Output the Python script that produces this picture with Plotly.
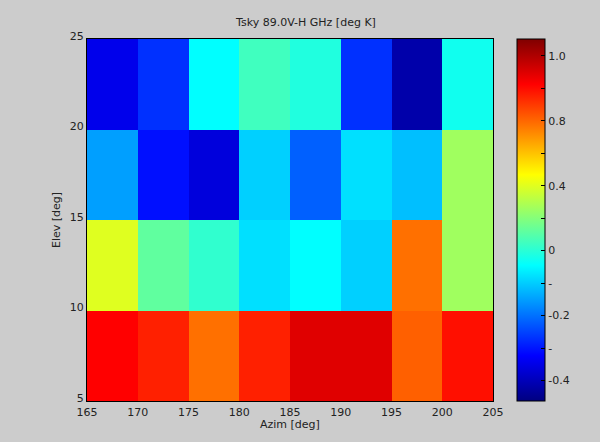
import plotly.graph_objects as go

# Bin edges
azim_edges = [165, 170, 175, 180, 185, 190, 195, 200, 205]
elev_edges = [5, 10, 15, 20, 25]

# Tsky values (rows: elev 5-10, 10-15, 15-20, 20-25)
row_5_10 = [0.877, 0.828, 0.705, 0.828, 0.924, 0.924, 0.730, 0.853]
row_10_15 = [0.437, 0.242, 0.169, 0.047, 0.095, 0.023, 0.705, 0.341]
row_15_20 = [-0.052, -0.272, -0.350, 0.023, -0.149, 0.047, -0.003, 0.341]
row_20_25 = [-0.327, -0.222, 0.095, 0.193, 0.144, -0.222, -0.426, 0.119]
tsky = [row_5_10, row_10_15, row_15_20, row_20_25]

zmin, zmax = -0.491, 1.072

# Colorbar tick labels (as displayed)
cbar_labels = ["1.0", "", "0.8", "", "0.4", "", "0", "-", "-0.2", "-", "-0.4"]
cbar_step = 0.1403
cbar_vals = [1.0 - i * cbar_step for i in range(len(cbar_labels))]

jet = [
    [0.0, "rgb(0,0,128)"],
    [0.125, "rgb(0,0,255)"],
    [0.375, "rgb(0,255,255)"],
    [0.625, "rgb(255,255,0)"],
    [0.875, "rgb(255,0,0)"],
    [1.0, "rgb(128,0,0)"],
]

font = dict(family="DejaVu Sans, Liberation Sans, sans-serif", size=11, color="#222222")

L, R, T, B = 87, 107, 39, 41
PW = 600 - L - R
PH = 442 - T - B

fig = go.Figure(
    go.Heatmap(
        x=azim_edges,
        y=elev_edges,
        z=tsky,
        zmin=zmin,
        zmax=zmax,
        colorscale=jet,
        colorbar=dict(
            x=(517 - L) / PW,
            xanchor="left",
            xref="paper",
            y=0.5,
            yanchor="middle",
            len=1.0,
            lenmode="fraction",
            thickness=28,
            thicknessmode="pixels",
            outlinecolor="black",
            outlinewidth=1,
            tickmode="array",
            tickvals=cbar_vals,
            ticktext=cbar_labels,
            ticks="inside",
            ticklen=4,
            tickcolor="black",
            tickfont=font,
            ypad=0,
            xpad=0,
        ),
    )
)

fig.update_layout(
    width=600,
    height=442,
    paper_bgcolor="#cccccc",
    plot_bgcolor="#cccccc",
    margin=dict(l=L, r=R, t=T, b=B, autoexpand=False),
    font=font,
    title=dict(
        text="Tsky 89.0V-H GHz [deg K]",
        x=306 / 600,
        xanchor="center",
        y=1 - 22 / 442,
        yanchor="middle",
        font=font,
    ),
    xaxis=dict(
        range=[165, 205],
        tickvals=azim_edges,
        ticks="",
        showgrid=False,
        zeroline=False,
        showline=True,
        linecolor="black",
        linewidth=1,
        mirror=True,
        automargin=False,
        tickfont=font,
        ticklabelstandoff=1,
    ),
    yaxis=dict(
        range=[5, 25],
        tickvals=elev_edges,
        ticks="",
        showgrid=False,
        zeroline=False,
        showline=True,
        linecolor="black",
        linewidth=1,
        mirror=True,
        automargin=False,
        tickfont=font,
        ticklabelshift=-3,
    ),
    annotations=[
        dict(
            text="Azim [deg]",
            xref="paper",
            yref="paper",
            x=0.5,
            y=-(424 - (T + PH)) / PH,
            xanchor="center",
            yanchor="middle",
            showarrow=False,
            font=font,
        ),
        dict(
            text="Elev [deg]",
            xref="paper",
            yref="paper",
            x=-(L - 56) / PW,
            y=0.5,
            xanchor="center",
            yanchor="middle",
            textangle=-90,
            showarrow=False,
            font=font,
        ),
    ],
)

fig.write_html(
    "out.html",
    config={"displayModeBar": False},
    post_script="document.body.style.margin='0px';document.body.style.background='#cccccc';",
)
